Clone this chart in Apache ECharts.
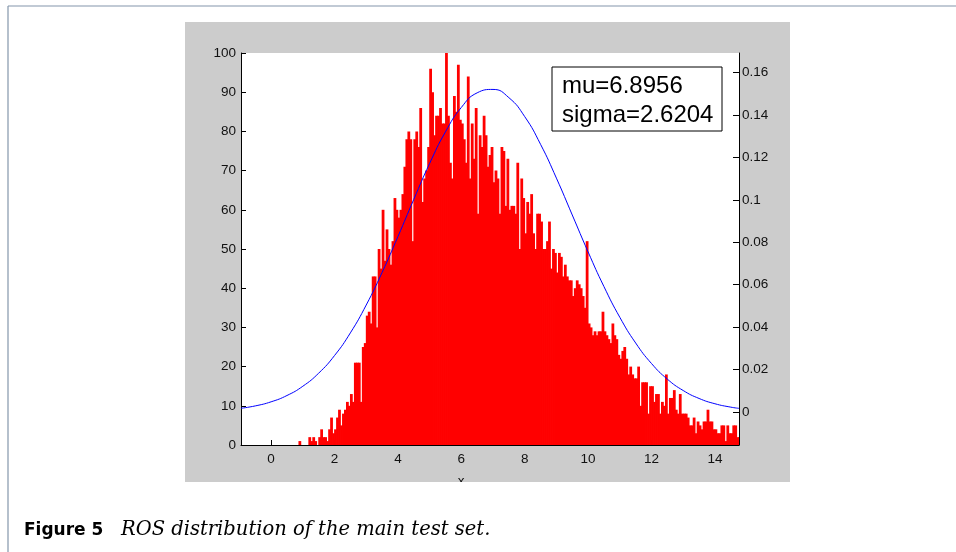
<!DOCTYPE html>
<html>
<head>
<meta charset="utf-8">
<script src="https://cdn.jsdelivr.net/npm/echarts@6/dist/echarts.min.js"></script>
<style>
html,body{margin:0;padding:0;background:#fff;}
#c{width:956px;height:552px;}
</style>
</head>
<body>
<div id="c"></div>
<script>
// Histogram: bins start at BIN_START, each BIN_WIDTH wide; counts
const BIN_START = 0.8;
const BIN_WIDTH = 0.0625;
const counts = [
 0,1,0,0,0,0,2,1,2,1,0,2,4,2,2,1,
 4,7,3,4,7,9,5,8,9,11,10,13,11,21,21,21,
 11,25,26,33,34,31,43,43,30,50,45,60,47,55,50,46,
 52,63,60,58,60,64,71,78,80,78,52,78,80,76,86,62,
 68,70,76,96,90,79,84,84,86,82,82,100,84,72,68,89,
 85,97,83,82,78,72,94,68,82,73,86,59,79,76,84,79,
 71,74,76,67,70,68,59,76,75,61,73,60,61,61,59,72,
 50,68,63,54,62,59,64,54,50,59,59,57,50,50,52,57,
 45,50,49,44,49,48,43,46,43,42,42,38,40,42,41,40,
 38,35,52,31,30,28,29,28,29,29,34,29,28,27,26,31,
 28,27,23,22,24,25,22,18,20,18,17,17,20,10,16,16,
 16,8,15,15,11,13,13,8,11,10,18,8,12,12,14,9,
 8,13,8,8,8,7,5,5,7,3,6,5,4,6,6,9,
 6,6,4,4,3,3,5,5,1,5,3,3,5,5,2,2
];
// Fitted normal curve (right axis)
const curveX = [-0.95,-0.5,0,0.5,1,1.5,2,2.5,3,3.5,4,4.5,5,5.5,6,6.5,7,7.5,8,8.5,9,9.5,10,10.5,11,11.5,12,12.5,13,13.5,14,14.5,14.76];
const curveY = [0.001723,0.002838,0.004773,0.007745,0.012113,0.018277,0.026581,0.037284,0.050423,0.065751,0.082675,0.10024,0.11719,0.13211,0.14360,0.15052,0.15212,0.14824,0.13930,0.12622,0.11028,0.092896,0.075466,0.059112,0.044646,0.032513,0.022833,0.015460,0.010095,0.006355,0.003858,0.002258,0.001686];
// Tick labels
const xTicks = [0,2,4,6,8,10,12,14];
const rightTicks = [0,0.02,0.04,0.06,0.08,0.1,0.12,0.14,0.16];
const fitText = ['mu=6.8956','sigma=2.6204'];
const captionBold = 'Figure 5';
const captionItalic = 'ROS distribution of the main test set.';
const xName = 'x';

const histData = counts.map((c,i)=>[BIN_START+i*BIN_WIDTH, BIN_START+(i+1)*BIN_WIDTH, c]);
const curveData = curveX.map((x,i)=>[x, curveY[i]]);

const FONT = 'Liberation Sans, Arial, sans-serif';
const labelStyle = {color:'#111', fontSize:13.5, fontFamily:FONT};

const chart = echarts.init(document.getElementById('c'), null, {renderer:'canvas'});
chart.setOption({
  animation:false,
  backgroundColor:'#ffffff',
  graphic:[
    {type:'line', z:-20, shape:{x1:8,y1:6,x2:956,y2:6}, style:{stroke:'#8496ab', lineWidth:1.2}},
    {type:'line', z:-20, shape:{x1:8,y1:6,x2:8,y2:552}, style:{stroke:'#8496ab', lineWidth:1.2}},
    {type:'rect', z:-10, shape:{x:185,y:22,width:605,height:460}, style:{fill:'#cccccc'}},
    {type:'text', z:5, x:461, y:481, style:{text:xName, fill:'#111', font:'13.5px '+FONT, textAlign:'center', textVerticalAlign:'middle'}},
    {type:'rect', z:8, shape:{x:185,y:482,width:605,height:14}, style:{fill:'#ffffff'}},
    {type:'group', z:20, children:[
      {type:'rect', z:20, shape:{x:552,y:67,width:170,height:64}, style:{fill:'#fff', stroke:'#000', lineWidth:1}},
      {type:'text', z:21, x:562, y:86, style:{text:fitText[0], fill:'#000', font:'24px '+FONT, textVerticalAlign:'middle'}},
      {type:'text', z:21, x:562, y:115, style:{text:fitText[1], fill:'#000', font:'24px '+FONT, textVerticalAlign:'middle'}}
    ]},
    {type:'text', z:30, x:24, y:531, style:{text:captionBold, fill:'#000', font:'bold 17px DejaVu Sans', textVerticalAlign:'middle'}},
    {type:'text', z:30, x:121, y:530, style:{text:captionItalic, fill:'#000', font:'italic 19.5px DejaVu Serif', textVerticalAlign:'middle'}}
  ],
  grid:{left:241, top:53, width:498, height:392, show:true, backgroundColor:'#ffffff', borderWidth:0},
  xAxis:{
    type:'value', min:-0.95, max:14.76,
    axisLine:{show:true, onZero:false, lineStyle:{color:'#000', width:1}},
    axisTick:{show:true, inside:true, length:5, customValues:xTicks, lineStyle:{color:'#000'}},
    axisLabel:{customValues:xTicks, margin:7, ...labelStyle},
    splitLine:{show:false}
  },
  yAxis:[
    {type:'value', min:0, max:100, interval:10, position:'left',
     axisLine:{show:true, onZero:false, lineStyle:{color:'#000', width:1}},
     axisTick:{show:true, inside:true, length:5, lineStyle:{color:'#000'}},
     axisLabel:{margin:5, ...labelStyle},
     splitLine:{show:false}},
    {type:'value', min:-0.0156, max:0.1693, position:'right',
     axisLine:{show:true, onZero:false, lineStyle:{color:'#000', width:1}},
     axisTick:{show:true, inside:true, length:6, customValues:rightTicks, lineStyle:{color:'#000'}},
     axisLabel:{customValues:rightTicks, margin:3, ...labelStyle,
       formatter:v=>String(parseFloat(Number(v).toFixed(2)))},
     splitLine:{show:false}}
  ],
  series:[
    {type:'custom', xAxisIndex:0, yAxisIndex:0, clip:true, z:2,
     data:histData,
     encode:{x:[0,1], y:2},
     renderItem:function(params, api){
       const p0 = api.coord([api.value(0), api.value(2)]);
       const p1 = api.coord([api.value(1), 0]);
       return {type:'rect', shape:{x:p0[0], y:p0[1], width:p1[0]-p0[0]+0.8, height:p1[1]-p0[1]},
               style:{fill:'#ff0000'}};
     }},
    {type:'line', xAxisIndex:0, yAxisIndex:1, data:curveData, smooth:true, showSymbol:false, z:5,
     lineStyle:{color:'#0000ff', width:1}, itemStyle:{color:'#0000ff'}}
  ]
});
</script>
</body>
</html>
